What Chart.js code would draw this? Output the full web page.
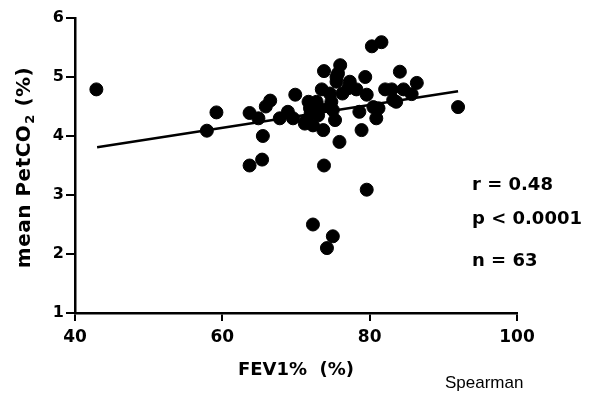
<!DOCTYPE html>
<html>
<head>
<meta charset="utf-8">
<script src="https://cdn.jsdelivr.net/npm/chart.js@4.4.0/dist/chart.umd.min.js"></script>
<style>
  body { margin: 0; background: #fff; }
  canvas { display: block; }
</style>
</head>
<body>
<canvas id="myChart" width="599" height="393"></canvas>
<script>
// FEV1% (x) and mean PetCO2 (y)
const fevValues = [42.9, 57.9, 59.2, 63.7, 64.9, 65.5, 65.9, 66.5, 63.7, 65.4,
    67.8, 68.9, 69.9, 69.6, 71.7, 71.9, 71.4, 72.8, 73.2, 73.0,
    72.3, 73.7, 73.5, 73.8, 74.6, 74.8, 75.0, 75.5, 75.7, 76.0,
    75.3, 80.3, 81.6, 75.5, 77.3, 77.1, 78.2, 79.4, 79.6, 82.1,
    83.0, 84.1, 84.6, 86.4, 85.7, 83.2, 83.6, 80.5, 81.2, 78.6,
    80.9, 78.9, 75.9, 92.0, 73.8, 79.6, 72.3, 75.0, 74.2, 71.2,
    74.6, 76.3, 72.0];
const petco2Values = [4.79, 4.09, 4.40, 4.39, 4.30, 4.00, 4.50, 4.60, 3.50, 3.60,
    4.30, 4.41, 4.70, 4.30, 4.58, 4.47, 4.27, 4.58, 4.47, 4.35,
    4.18, 4.10, 4.79, 5.10, 4.72, 4.58, 4.44, 4.92, 5.06, 5.20,
    4.27, 5.52, 5.59, 5.00, 4.92, 4.81, 4.79, 5.00, 4.70, 4.79,
    4.79, 5.09, 4.79, 4.90, 4.71, 4.61, 4.58, 4.49, 4.47, 4.41,
    4.30, 4.10, 3.90, 4.49, 3.50, 3.09, 2.50, 2.30, 2.10, 4.21,
    4.49, 4.72, 4.40];

// fitted line end points
const fitX = [43, 92];
const fitY = [3.81, 4.76];

const xTicks = [40, 60, 80, 100];
const yTicks = [1, 2, 3, 4, 5, 6];

const statsLines = ['r = 0.48', 'p < 0.0001', 'n = 63'];

const boldFam = '"DejaVu Sans", "Liberation Sans", Arial, sans-serif';
const plainFam = '"Liberation Sans", Arial, sans-serif';

const points = fevValues.map((x, i) => ({ x: x, y: petco2Values[i] }));
const fitLine = fitX.map((x, i) => ({ x: x, y: fitY[i] }));

// y title with a real subscript, stats text and the "Spearman" note
const notesPlugin = {
    id: 'notes',
    afterDraw(chart) {
        const ctx = chart.ctx;
        ctx.save();
        ctx.fillStyle = '#000';

        // y axis title, rotated
        ctx.save();
        ctx.translate(25, 168);
        ctx.rotate(-Math.PI / 2);
        ctx.textBaseline = 'middle';
        ctx.textAlign = 'left';
        if ('letterSpacing' in ctx) ctx.letterSpacing = '0.5px';
        const big = 'bold 20px ' + boldFam;
        const small = 'bold 13px ' + boldFam;
        ctx.font = big;
        const w1 = ctx.measureText('mean PetCO').width;
        const w3 = ctx.measureText(' (%)').width;
        ctx.font = small;
        const w2 = ctx.measureText('2').width;
        let start = -(w1 + w2 + w3) / 2;
        ctx.font = big;
        ctx.fillText('mean PetCO', start, 0);
        ctx.font = small;
        ctx.fillText('2', start + w1 + 1, 6);
        ctx.font = big;
        ctx.fillText(' (%)', start + w1 + w2 + 1, 0);
        ctx.restore();

        ctx.textBaseline = 'middle';
        ctx.textAlign = 'left';
        ctx.font = 'bold 18px ' + boldFam;
        ctx.fillText(statsLines[0], 472, 185);
        ctx.fillText(statsLines[1], 472, 219);
        ctx.fillText(statsLines[2], 472, 261);
        ctx.font = '17px ' + plainFam;
        ctx.fillText('Spearman', 445, 383);
        ctx.restore();
    }
};

new Chart(document.getElementById('myChart').getContext('2d'), {
    type: 'scatter',
    data: {
        datasets: [
            {
                data: points,
                backgroundColor: '#000',
                borderColor: '#000',
                pointRadius: 6.5,
                pointHoverRadius: 6.5,
            },
            {
                type: 'line',
                data: fitLine,
                borderColor: '#000',
                borderWidth: 2.5,
                pointRadius: 0,
                fill: false,
            },
        ],
    },
    options: {
        responsive: false,
        animation: false,
        layout: { padding: { top: 18, right: 82, left: 0, bottom: 8 } },
        plugins: {
            legend: { display: false },
            tooltip: { enabled: false },
        },
        scales: {
            x: {
                type: 'linear',
                min: 40,
                max: 100,
                afterBuildTicks: (scale) => { scale.ticks = xTicks.map(v => ({ value: v })); },
                afterFit: (scale) => { scale.height = 72; },
                border: { display: true, color: '#000', width: 2.5 },
                grid: { drawOnChartArea: false, drawTicks: true, tickLength: 8, color: '#000', lineWidth: 2 },
                ticks: { color: '#000', padding: 6, font: { family: boldFam, size: 17, weight: 'bold' } },
                title: {
                    display: true,
                    text: 'FEV1%  (%)',
                    color: '#000',
                    padding: { top: 2, bottom: 4 },
                    font: { family: boldFam, size: 18, weight: 'bold' },
                },
            },
            y: {
                min: 1,
                max: 6,
                afterBuildTicks: (scale) => { scale.ticks = yTicks.map(v => ({ value: v })); },
                afterFit: (scale) => { scale.width = 75; },
                border: { display: true, color: '#000', width: 2.5 },
                grid: { drawOnChartArea: false, drawTicks: true, tickLength: 9, color: '#000', lineWidth: 2 },
                ticks: { color: '#000', padding: 2, font: { family: boldFam, size: 16, weight: 'bold' } },
            },
        },
    },
    plugins: [notesPlugin],
});
</script>
</body>
</html>
